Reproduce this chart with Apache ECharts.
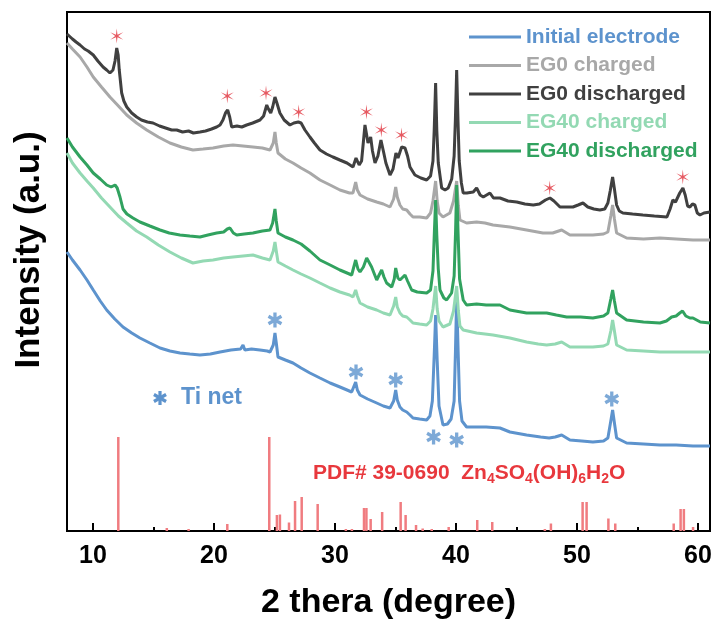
<!DOCTYPE html>
<html><head><meta charset="utf-8">
<script src="https://cdn.jsdelivr.net/npm/echarts@6/dist/echarts.min.js"></script>
<style>html,body{margin:0;padding:0;background:#fff}#c{width:716px;height:619px}</style>
</head><body><div id="c"></div>
<script>
// ---- data (2theta in degree, intensity in arbitrary units) ----
const xTicks = [10, 20, 30, 40, 50, 60];
const xMinorTicks = [15, 25, 35, 45, 55];
const seriesNames = ['Initial electrode', 'EG0 charged', 'EG0 discharged', 'EG40 charged', 'EG40 discharged'];

const initialElectrode = [[7.85,279],[8.3,271],[8.93,261],[9.5,251],[10.02,241],[10.6,230],[11.13,221],[11.8,212],[12.48,204],[13.2,198],[13.88,193],[14.7,188],[15.54,183],[16.36,180],[17.19,178],[18.0,177],[18.84,176],[19.7,177],[20.5,179],[21.4,181],[22.2,182],[22.4,186],[22.55,181],[23.1,182],[23.8,181],[24.4,180],[24.63,179],[24.9,186],[25.04,198],[25.15,188],[25.29,174],[25.9,171],[26.53,168],[27.2,163],[27.93,158],[28.76,153],[29.6,148],[30.41,144],[31.0,141],[31.38,139],[31.71,149],[31.85,141],[32.07,136],[32.7,132],[33.45,128],[34.0,125],[34.55,123],[34.85,130],[35.02,141],[35.15,131],[35.37,124],[35.6,121],[35.93,119],[36.2,116],[36.45,113],[37.0,112],[37.58,111],[37.85,115],[38.05,130],[38.2,175],[38.32,216],[38.45,170],[38.6,125],[38.93,106],[39.3,107],[39.6,112],[39.85,130],[39.96,180],[40.06,234],[40.18,180],[40.3,130],[40.5,110],[40.88,104],[41.71,104],[42.5,104],[43.64,103],[44.46,99],[45.84,96],[47.0,94],[47.7,93],[48.2,94],[48.74,96],[49.42,91],[50.4,90],[51.32,89],[52.2,90],[52.56,93],[52.8,110],[52.95,121],[53.1,108],[53.28,93],[54.11,88],[55.5,87],[56.86,86],[58.2,86],[59.59,85],[61.0,85]];

const eg0Charged = [[7.85,488],[8.3,482],[8.93,474],[9.5,464],[10.02,454],[10.7,444],[11.4,434],[12.1,425],[12.79,416],[13.6,408],[14.44,401],[15.4,394],[16.36,388],[17.3,384],[18.26,381],[19.1,382],[19.92,383],[20.8,385],[21.57,386],[22.4,385],[23.22,384],[24.0,383],[24.63,381],[24.9,388],[25.04,399],[25.15,388],[25.29,378],[25.9,372],[26.53,368],[27.2,363],[27.93,358],[28.76,351],[29.6,346],[30.41,341],[31.2,338],[31.49,338],[31.71,349],[31.85,341],[32.07,336],[32.7,332],[33.45,329],[34.0,327],[34.55,324],[34.85,332],[35.02,344],[35.15,334],[35.37,326],[35.6,322],[35.93,321],[36.2,317],[36.45,314],[37.0,314],[37.58,313],[37.9,318],[38.1,330],[38.32,350],[38.45,330],[38.6,318],[38.93,314],[39.5,318],[39.8,330],[40.06,350],[40.2,325],[40.33,311],[40.88,308],[41.71,309],[42.4,308],[43.06,306],[44.46,304],[45.84,301],[47.19,298],[48.0,298],[48.74,301],[49.42,296],[50.3,296],[51.32,296],[52.2,297],[52.56,299],[52.8,315],[52.95,326],[53.1,312],[53.28,298],[54.11,293],[55.5,292],[56.86,293],[58.2,292],[59.59,291],[61.0,291]];

const eg0Discharged = [[7.85,497],[8.3,492],[8.6,489],[8.93,486],[9.3,482],[9.6,480],[10.02,476],[10.4,470],[10.83,464],[11.13,461],[11.4,458],[11.65,461],[11.82,470],[11.96,483],[12.08,476],[12.17,461],[12.37,438],[12.55,430],[12.79,424],[13.2,418],[13.61,414],[14.0,411],[14.5,409],[14.96,408],[15.5,405],[16.0,403],[16.5,401],[16.92,401],[17.4,399],[17.9,400],[18.3,398],[18.84,399],[19.3,400],[19.8,402],[20.22,404],[20.5,406],[20.74,411],[20.95,418],[21.13,421],[21.3,414],[21.46,404],[21.9,405],[22.3,404],[22.7,406],[23.2,408],[23.8,411],[24.1,415],[24.36,426],[24.5,422],[24.69,418],[24.85,424],[25.04,434],[25.2,428],[25.45,418],[25.8,411],[26.28,406],[26.6,408],[26.97,409],[27.2,408],[27.52,401],[27.93,394],[28.3,388],[28.76,381],[29.3,377],[29.83,374],[30.4,371],[30.99,368],[31.49,364],[31.74,373],[32.0,366],[32.2,370],[32.48,406],[32.62,396],[32.73,388],[32.95,394],[33.1,380],[33.31,368],[33.55,375],[33.8,391],[34.0,380],[34.21,368],[34.55,356],[34.8,362],[35.04,378],[35.21,373],[35.51,384],[35.79,383],[36.0,375],[36.2,364],[36.61,356],[37.1,353],[37.58,351],[37.9,355],[38.1,370],[38.2,400],[38.32,448],[38.42,400],[38.54,368],[38.82,343],[39.1,341],[39.36,343],[39.65,352],[39.85,375],[39.95,410],[40.06,461],[40.17,410],[40.27,370],[40.45,348],[40.6,338],[40.9,338],[41.43,339],[41.71,343],[42.0,336],[42.26,334],[42.81,338],[43.1,333],[43.64,333],[44.3,330],[45.02,329],[45.7,327],[46.39,326],[46.9,327],[47.4,331],[47.77,333],[48.1,330],[48.6,324],[49.2,324],[49.67,324],[50.1,326],[50.5,328],[50.9,324],[51.4,322],[51.9,321],[52.3,322],[52.56,328],[52.75,340],[52.95,354],[53.1,342],[53.28,326],[53.5,320],[53.8,318],[54.6,317],[55.45,316],[56.4,315],[57.44,314],[57.7,322],[57.93,331],[58.15,329],[58.26,331],[58.5,338],[58.76,343],[58.95,336],[59.15,325],[59.34,324],[59.55,327],[59.75,326],[59.95,318],[60.17,316],[60.5,318],[61.0,319]];

const eg40Charged = [[7.85,378],[8.3,368],[8.93,358],[9.5,350],[10.02,343],[10.7,333],[11.4,324],[12.1,315],[12.79,308],[13.6,300],[14.44,294],[15.4,286],[16.36,279],[17.3,273],[18.26,268],[19.1,270],[19.92,271],[20.8,273],[21.57,274],[22.4,275],[23.22,276],[24.0,273],[24.63,271],[24.9,280],[25.04,289],[25.15,280],[25.29,269],[25.9,265],[26.53,261],[27.2,257],[27.93,253],[28.76,248],[29.6,243],[30.41,239],[31.2,236],[31.49,234],[31.71,241],[31.85,235],[32.07,228],[32.7,224],[33.45,221],[34.0,218],[34.55,216],[34.85,225],[35.02,234],[35.15,224],[35.37,218],[35.6,215],[35.93,214],[36.2,211],[36.45,208],[37.0,207],[37.58,206],[37.9,210],[38.1,222],[38.32,245],[38.45,222],[38.6,210],[38.93,204],[39.5,207],[39.8,220],[40.06,245],[40.2,220],[40.33,205],[40.6,201],[41.71,198],[42.4,197],[43.06,196],[44.46,193],[45.84,189],[46.8,187],[47.5,186],[48.2,187],[48.74,189],[49.42,184],[50.3,184],[51.32,184],[52.2,185],[52.56,187],[52.8,200],[52.95,211],[53.1,200],[53.28,186],[54.11,181],[55.5,180],[56.86,179],[58.2,179],[59.59,179],[61.0,179]];

const eg40Discharged = [[7.85,393],[8.3,384],[8.93,374],[9.5,366],[10.02,358],[10.6,352],[11.13,346],[11.5,344],[11.82,346],[12.0,343],[12.23,334],[12.48,322],[12.8,317],[13.3,313],[13.88,309],[14.7,305],[15.54,301],[16.3,298],[17.19,296],[18.0,295],[18.84,294],[19.5,296],[20.22,298],[20.8,299],[21.1,302],[21.32,303],[21.6,298],[21.88,296],[22.5,297],[23.22,298],[24.0,300],[24.63,301],[24.85,308],[25.04,322],[25.15,310],[25.29,298],[25.9,294],[26.53,291],[27.2,287],[27.93,280],[28.76,271],[29.6,266],[30.41,261],[31.0,258],[31.38,256],[31.71,271],[31.9,262],[32.07,259],[32.35,264],[32.62,273],[32.85,268],[33.03,264],[33.45,251],[33.65,256],[33.86,261],[34.05,254],[34.27,248],[34.69,244],[34.9,252],[35.02,263],[35.2,253],[35.37,251],[35.79,256],[36.0,250],[36.34,241],[36.8,239],[37.58,238],[37.9,241],[38.1,260],[38.22,300],[38.32,331],[38.42,295],[38.54,262],[38.68,241],[39.0,233],[39.23,231],[39.64,238],[39.85,255],[39.97,300],[40.06,346],[40.17,300],[40.3,252],[40.6,231],[40.88,226],[41.71,227],[42.5,226],[43.06,226],[43.64,226],[44.46,221],[45.84,218],[46.8,218],[47.5,218],[48.3,216],[49.15,214],[50.3,214],[51.32,213],[52.2,215],[52.56,218],[52.8,232],[52.95,241],[53.1,230],[53.28,218],[54.11,211],[55.5,209],[56.86,208],[57.4,210],[57.83,214],[58.2,215],[58.5,218],[58.73,220],[59.0,215],[59.34,213],[59.59,213],[60.2,209],[61.0,208]];

// PDF# 39-0690 reference lines [2theta, relative intensity]
const pdfSticks = [[12.09,94],[16.1,3],[17.9,2],[21.1,7],[24.57,94],[25.2,16],[25.45,16.5],[26.2,8.5],[26.7,30],[27.25,34],[28.57,27],[30.9,2],[31.4,2],[32.4,23],[32.6,23],[32.95,12],[33.9,19],[35.43,29],[35.84,16],[36.7,6],[37.25,2.5],[38.0,2],[39.4,4],[41.76,11],[43.0,9],[47.35,2],[47.85,7.5],[50.47,29],[50.8,29],[52.6,12.5],[53.17,7.5],[58.0,7.5],[58.57,22],[58.84,22],[59.6,4]];

// peak markers
const zincSulfateMarks = [[11.96,495],[21.1,435],[24.3,438],[27.0,419],[32.6,419],[33.83,401],[35.5,396],[47.75,343],[58.75,354]];
const tiNetMarks = [[25.04,211],[31.74,159],[35.02,151],[38.15,94],[40.06,91],[52.88,132]];

// ---- styling ----
const FONT = 'Liberation Sans, Arial, sans-serif';
const colors = ['#5d93cd', '#a8a8a8', '#404040', '#93d9b3', '#31a25f'];
const seriesData = [initialElectrode, eg0Charged, eg0Discharged, eg40Charged, eg40Discharged];

function starPath(n, R, r) {
  let d = '';
  for (let i = 0; i < 2 * n; i++) {
    const a = -Math.PI / 2 + i * Math.PI / n;
    const rad = i % 2 ? r : R;
    d += (i ? 'L' : 'M') + (rad * Math.cos(a)).toFixed(3) + ',' + (rad * Math.sin(a)).toFixed(3);
  }
  return d + 'Z';
}
function asteriskArms(cx, cy, L, w) {
  return [90, 30, -30].map(deg => {
    const a = deg * Math.PI / 180;
    const dx = Math.cos(a), dy = Math.sin(a), px = -dy, py = dx;
    return [[cx + L*dx + w*px, cy + L*dy + w*py], [cx + L*dx - w*px, cy + L*dy - w*py], [cx - L*dx - w*px, cy - L*dy - w*py], [cx - L*dx + w*px, cy - L*dy + w*py]];
  });
}
function asteriskPath(L, w) {
  return asteriskArms(0, 0, L, w).map(pts => 'M' + pts.map(p => p[0].toFixed(3) + ',' + p[1].toFixed(3)).join('L') + 'Z').join('');
}
const STAR = 'path://' + starPath(6, 10, 2.0);
const AST = 'path://' + asteriskPath(10, 2.2);

const chart = echarts.init(document.getElementById('c'), null, {renderer: 'canvas'});

const lineSeries = seriesNames.map((name, i) => ({
  name, type: 'line', data: seriesData[i], showSymbol: false, symbol: 'none',
  lineStyle: {color: colors[i], width: 3}, itemStyle: {color: colors[i]},
  xAxisIndex: 0, yAxisIndex: 0, z: 2 + i
}));

const legendAst = asteriskArms(160, 398, 7, 1.6).map(pts => ({type: 'polygon', shape: {points: pts}, style: {fill: '#5d93cd'}}));

const option = {
  animation: false,
  backgroundColor: '#fff',
  grid: {left: 67, right: 6, top: 12, bottom: 88, show: true, borderColor: '#000', borderWidth: 2, containLabel: false, outerBoundsMode: 'none'},
  legend: {
    orient: 'vertical', left: 464, top: 21, itemWidth: 52, itemHeight: 3, itemGap: 6.5, icon: 'rect',
    data: seriesNames.map((n, i) => ({name: n, textStyle: {color: colors[i]}})),
    textStyle: {fontSize: 21, fontWeight: 'bold', fontFamily: FONT, lineHeight: 22},
    selectedMode: false
  },
  xAxis: [{
    type: 'value', min: 7.85, max: 61, position: 'bottom',
    axisLine: {show: true, onZero: false, lineStyle: {color: '#000', width: 2}},
    axisTick: {show: true, inside: true, length: 8, lineStyle: {color: '#000', width: 2}, customValues: xTicks},
    axisLabel: {customValues: xTicks, color: '#000', fontSize: 25, fontWeight: 'bold', fontFamily: FONT, margin: 13},
    splitLine: {show: false},
    name: '2 thera (degree)', nameLocation: 'middle', nameGap: 55,
    nameTextStyle: {color: '#000', fontSize: 34, fontWeight: 'bold', fontFamily: FONT}
  }, {
    type: 'value', min: 7.85, max: 61, position: 'bottom',
    axisLine: {show: false},
    axisTick: {show: true, inside: true, length: 4, lineStyle: {color: '#000', width: 2}, customValues: xMinorTicks},
    axisLabel: {show: false}, splitLine: {show: false}
  }],
  yAxis: {
    type: 'value', min: 0, max: 519,
    axisLine: {show: true, lineStyle: {color: '#000', width: 2}},
    axisTick: {show: false}, axisLabel: {show: false}, splitLine: {show: false}
  },
  series: [
    {name: 'PDF', type: 'bar', data: pdfSticks, barWidth: 2.5, itemStyle: {color: '#f07c80'}, xAxisIndex: 0, z: 1, silent: true},
    ...lineSeries,
    {name: 'zn', type: 'scatter', data: zincSulfateMarks, symbol: STAR, symbolSize: 15, symbolKeepAspect: true, itemStyle: {color: '#e0303a'}, z: 10},
    {name: 'ti', type: 'scatter', data: tiNetMarks, symbol: AST, symbolSize: 15, symbolKeepAspect: true, itemStyle: {color: '#5d93cd'}, z: 10}
  ],
  graphic: [
    ...legendAst,
    {type: 'text', x: 29, y: 250, rotation: Math.PI / 2, style: {text: 'Intensity (a.u.)', fill: '#000', font: 'bold 35px ' + FONT, align: 'center', verticalAlign: 'middle'}},
    {type: 'text', left: 181, top: 386, style: {text: 'Ti net', fill: '#5d93cd', font: 'bold 23px ' + FONT}},
    {type: 'text', left: 313, top: 460, style: {
      text: 'PDF# 39-0690  Zn{s|4}SO{s|4}(OH){s|6}H{s|2}O',
      fill: '#e8383d', font: 'bold 21px ' + FONT, lineHeight: 26,
      rich: {s: {fontSize: 14, fontWeight: 'bold', fontFamily: FONT, fill: '#e8383d', verticalAlign: 'bottom', lineHeight: 14}}
    }}
  ]
};
chart.setOption(option);
</script>
</body></html>
